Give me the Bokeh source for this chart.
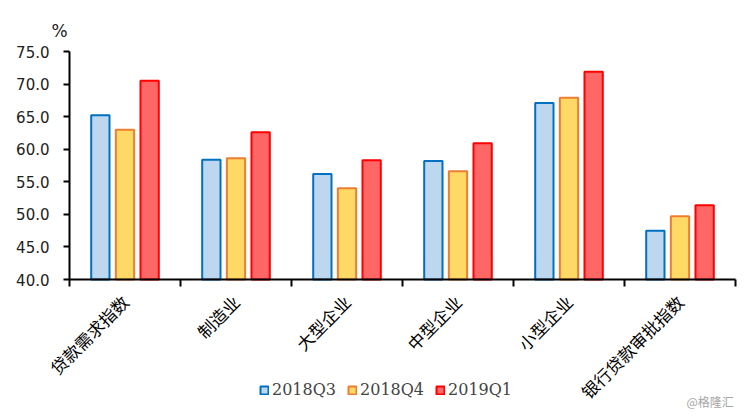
import math
from bokeh.plotting import figure
from bokeh.models import (Range1d, FixedTicker, NumeralTickFormatter, ColumnDataSource,
                          Legend, LegendItem, Label)
from bokeh.embed import file_html
from bokeh.resources import INLINE

categories = ["贷款需求指数", "制造业", "大型企业", "中型企业", "小型企业", "银行贷款审批指数"]
series_names = ["2018Q3", "2018Q4", "2019Q1"]
q3_2018 = [65.2, 58.4, 56.2, 58.2, 67.1, 47.5]
q4_2018 = [63.0, 58.6, 54.0, 56.6, 67.9, 49.7]
q1_2019 = [70.5, 62.6, 58.3, 60.9, 71.9, 51.4]
y_ticks = [40, 45, 50, 55, 60, 65, 70, 75]

fills = ["#BDD7EE", "#FFD966", "#FF6666"]
lines = ["#0070C0", "#ED7D31", "#FF0000"]
offsets = [-0.222, 0.0, 0.222]
bar_w = 0.165

W, H = 742, 412
# frame covers the whole canvas; axes drawn at fixed locations inside it
px_x = 111.0          # pixels per category
px_y = 228.0 / 35.0   # pixels per percentage point
x0_px, y40_px = 69, 279
x_range = Range1d(-x0_px / px_x, len(categories) + (W - x0_px - 6 * px_x) / px_x)
y_range = Range1d(40 - (H - y40_px) / px_y, 40 + y40_px / px_y)

p = figure(width=W, height=H, output_backend="svg", toolbar_location=None,
           x_range=x_range, y_range=y_range,
           min_border=0, min_border_left=0, min_border_right=0,
           min_border_top=0, min_border_bottom=0)
p.outline_line_color = None
p.xgrid.visible = False
p.ygrid.visible = False
p.background_fill_color = "white"
p.border_fill_color = "white"

renderers = []
for name, vals, fc, lc, off in zip(series_names, [q3_2018, q4_2018, q1_2019], fills, lines, offsets):
    src = ColumnDataSource(dict(x=[i + 0.5 + off for i in range(len(categories))], top=vals,
                                bottom=[40] * len(vals)))
    r = p.vbar(x="x", top="top", bottom="bottom", width=bar_w, source=src,
               fill_color=fc, line_color=lc, line_width=2)
    renderers.append((name, r))

# y axis
ya = p.yaxis[0]
ya.fixed_location = 0
ya.bounds = (40, 75)
ya.ticker = FixedTicker(ticks=y_ticks)
ya.formatter = NumeralTickFormatter(format="0.0")
ya.major_label_text_font = "DejaVu Sans"
ya.major_label_text_font_size = "15px"
ya.major_label_text_color = "#222222"
ya.axis_line_width = 2
ya.axis_line_color = "black"
ya.major_tick_line_width = 2
ya.major_tick_out = 6
ya.major_tick_in = 0
ya.minor_tick_line_color = None
ya.major_label_standoff = 14

# x axis
centers = [i + 0.5 for i in range(len(categories))]
xa = p.xaxis[0]
xa.fixed_location = 40
xa.bounds = (0, len(categories))
xa.ticker = FixedTicker(ticks=centers, minor_ticks=list(range(len(categories) + 1)))
xa.major_label_overrides = {c: cat for c, cat in zip(centers, categories)}
xa.major_label_orientation = math.pi / 4
xa.major_label_text_font = "Noto Sans CJK SC"
xa.major_label_text_font_size = "17px"
xa.major_label_text_color = "black"
xa.major_tick_out = 0
xa.major_tick_in = 0
xa.minor_tick_out = 7
xa.minor_tick_in = 0
xa.minor_tick_line_width = 2
xa.minor_tick_line_color = "black"
xa.axis_line_width = 2
xa.axis_line_color = "black"
xa.major_label_standoff = 12

legend = Legend(items=[LegendItem(label=n, renderers=[r]) for n, r in renderers],
                orientation="horizontal", location=(259, 13),
                glyph_width=10, glyph_height=10, label_height=16,
                label_text_font="DejaVu Serif", label_text_font_size="16px",
                label_standoff=3, spacing=11, padding=0, margin=0,
                border_line_color=None, background_fill_alpha=0)
p.add_layout(legend)

p.add_layout(Label(x=-10 / px_x, y=75 + 21 / px_y, text="%",
                   text_align="center", text_baseline="middle",
                   text_font="DejaVu Sans", text_font_size="17px", text_color="#222222"))
p.add_layout(Label(x=(686 - x0_px) / px_x, y=40 - (401 - y40_px) / px_y, text="@格隆汇",
                   text_align="left", text_baseline="middle",
                   text_font="Noto Sans CJK SC", text_font_size="12px", text_color="#a6a6a6"))

open("out.html", "w").write(file_html(p, INLINE))
